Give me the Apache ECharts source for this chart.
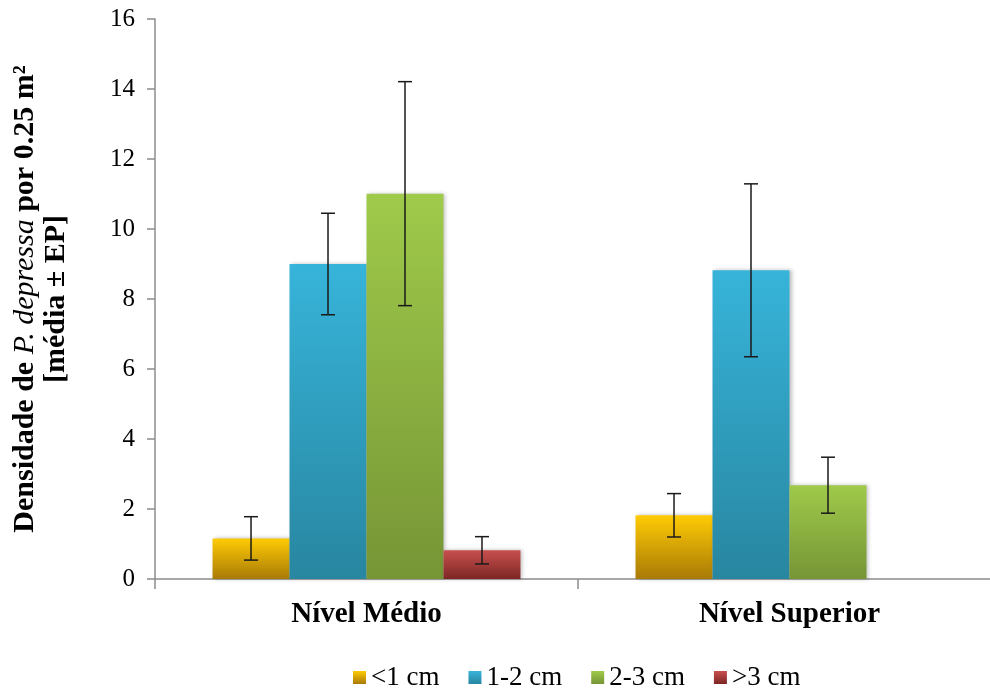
<!DOCTYPE html>
<html>
<head>
<meta charset="utf-8">
<script src="https://cdn.jsdelivr.net/npm/echarts@6/dist/echarts.min.js"></script>
<style>
  html, body { margin: 0; padding: 0; background: #fff; }
  #chart { width: 990px; height: 688px; }
</style>
</head>
<body>
<div id="chart"></div>
<script>
// Sampling levels on the shore
const levels = ['Nível Médio', 'Nível Superior'];
// Size classes
const sizeClasses = ['<1 cm', '1-2 cm', '2-3 cm', '>3 cm'];
// Mean density per 0.25 m² for each size class (one value per level)
const meanLt1 = [1.16, 1.82];
const mean1to2 = [9.0, 8.82];
const mean2to3 = [11.01, 2.68];
const meanGt3 = [0.82, 0];
// Standard error for each mean
const seLt1 = [0.62, 0.62];
const se1to2 = [1.45, 2.47];
const se2to3 = [3.2, 0.8];
const seGt3 = [0.39, null];
// Value axis ticks
const yTicks = { min: 0, max: 16, interval: 2 };

const means = [meanLt1, mean1to2, mean2to3, meanGt3];
const errors = [seLt1, se1to2, se2to3, seGt3];

const gradients = [
  ['#FFCB05', '#A87A06'],
  ['#37B4DA', '#2886A0'],
  ['#9FCA4A', '#769536'],
  ['#C8504E', '#7C2624']
];

const serif = '"Liberation Serif", "DejaVu Serif", serif';
const categoryGap = 0.272;

function grad(c) {
  return new echarts.graphic.LinearGradient(0, 0, 0, 1, [
    { offset: 0, color: c[0] },
    { offset: 1, color: c[1] }
  ]);
}

const barSeries = sizeClasses.map((name, i) => ({
  name: name,
  type: 'bar',
  data: means[i],
  barGap: '0%',
  barCategoryGap: (categoryGap * 100) + '%',
  itemStyle: {
    color: grad(gradients[i]),
    shadowColor: 'rgba(0,0,0,0.25)',
    shadowBlur: 4,
    shadowOffsetX: 2,
    shadowOffsetY: 0
  },
  emphasis: { disabled: true }
}));

// Error bars (mean ± SE) placed over each bar slot
const errorData = [];
means.forEach((arr, s) => {
  arr.forEach((m, c) => {
    const e = errors[s][c];
    if (e != null) errorData.push([c, m - e, m + e, s]);
  });
});

const errorSeries = {
  type: 'custom',
  name: 'erro',
  z: 10,
  data: errorData,
  encode: { x: 0, y: [1, 2] },
  renderItem: function (params, api) {
    const cat = api.value(0);
    const lo = api.value(1);
    const hi = api.value(2);
    const s = api.value(3);
    const catWidth = api.size([1, 0])[0];
    const barW = catWidth * (1 - categoryGap) / sizeClasses.length;
    const offset = (s - (sizeClasses.length - 1) / 2) * barW;
    const pLo = api.coord([cat, lo]);
    const pHi = api.coord([cat, hi]);
    const x = pLo[0] + offset;
    const cap = 7;
    const style = { stroke: '#1a1a1a', lineWidth: 1.5 };
    return {
      type: 'group',
      children: [
        { type: 'line', shape: { x1: x, y1: pLo[1], x2: x, y2: pHi[1] }, style: style },
        { type: 'line', shape: { x1: x - cap, y1: pHi[1], x2: x + cap, y2: pHi[1] }, style: style },
        { type: 'line', shape: { x1: x - cap, y1: pLo[1], x2: x + cap, y2: pLo[1] }, style: style }
      ]
    };
  }
};

const chart = echarts.init(document.getElementById('chart'));
chart.setOption({
  animation: false,
  backgroundColor: '#ffffff',
  grid: { left: 155, right: -11, top: 19, bottom: 109, containLabel: false, outerBoundsMode: 'none' },
  legend: {
    data: sizeClasses,
    left: 348,
    top: 659,
    itemWidth: 13,
    itemHeight: 13,
    itemGap: 29,
    icon: 'rect',
    textStyle: { fontFamily: serif, fontSize: 27, color: '#000' }
  },
  xAxis: {
    type: 'category',
    data: levels,
    axisLine: { lineStyle: { color: '#8c8c8c', width: 1.5 } },
    axisTick: { show: true, length: 10, lineStyle: { color: '#8c8c8c', width: 1.5 } },
    axisLabel: {
      fontFamily: serif, fontSize: 29, fontWeight: 'bold', color: '#000', margin: 21
    },
    splitLine: { show: false }
  },
  yAxis: {
    type: 'value',
    min: yTicks.min,
    max: yTicks.max,
    interval: yTicks.interval,
    axisLine: { show: true, lineStyle: { color: '#8c8c8c', width: 1.5 } },
    axisTick: { show: true, length: 8, lineStyle: { color: '#8c8c8c', width: 1.5 } },
    axisLabel: { fontFamily: serif, fontSize: 25, color: '#000', margin: 20 },
    splitLine: { show: false },
    name: '{b|Densidade de }{bi|P. depressa}{b| por 0.25 m²}\n{b|[média ± EP]}',
    nameLocation: 'middle',
    nameRotate: 90,
    nameGap: 83,
    nameTextStyle: {
      align: 'center',
      rich: {
        b: { fontFamily: serif, fontSize: 30, fontWeight: 'bold', color: '#000', lineHeight: 31 },
        bi: { fontFamily: serif, fontSize: 30, fontWeight: 'normal', fontStyle: 'italic', color: '#000', lineHeight: 31 }
      }
    }
  },
  series: barSeries.concat([errorSeries])
});
</script>
</body>
</html>
